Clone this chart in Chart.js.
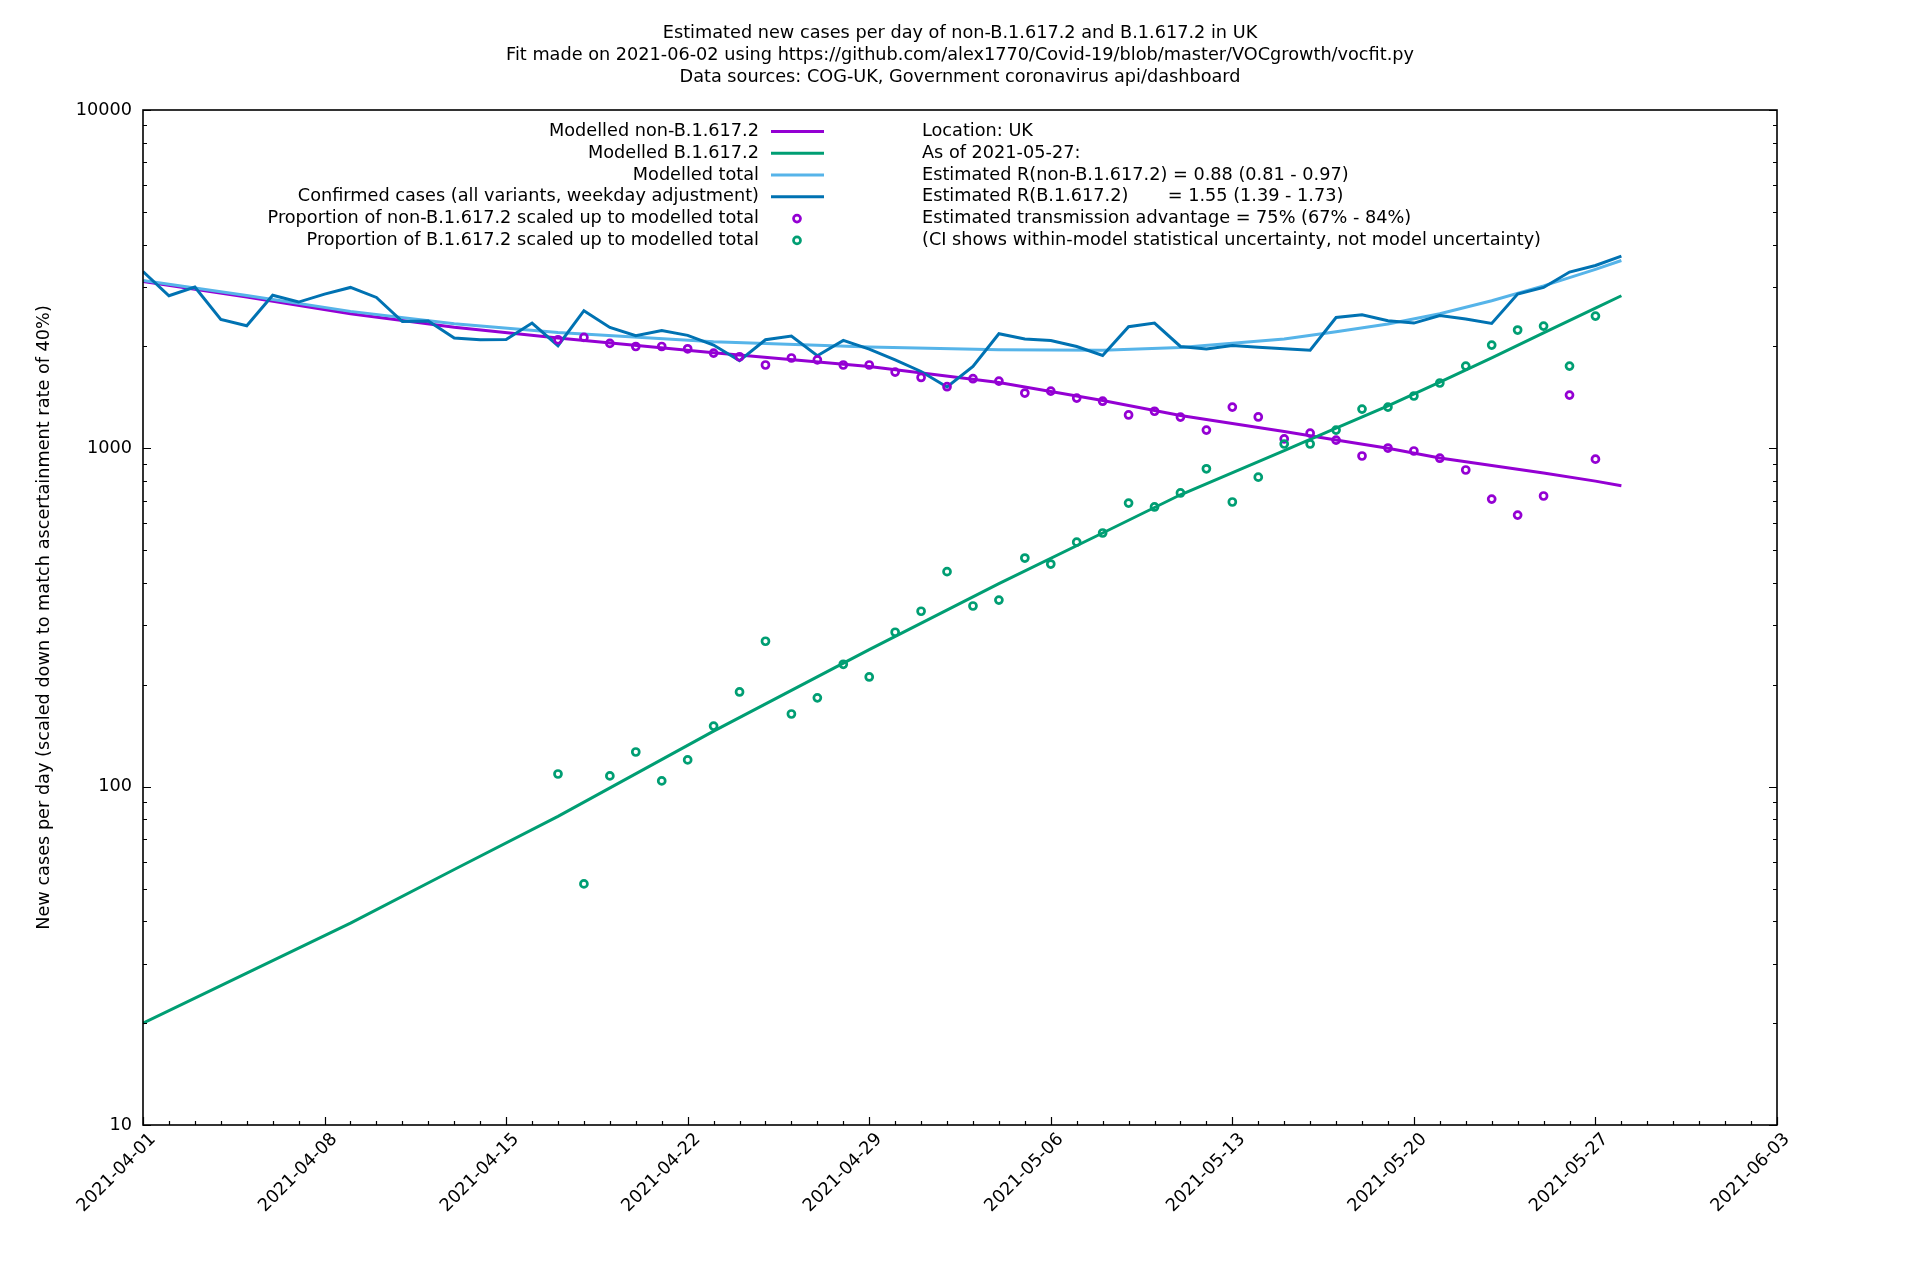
<!DOCTYPE html>
<html>
<head>
<meta charset="utf-8">
<title>Estimated new cases per day of non-B.1.617.2 and B.1.617.2 in UK</title>
<script src="https://cdn.jsdelivr.net/npm/chart.js@4.4.1/dist/chart.umd.min.js"></script>
<style>
  html, body { margin: 0; padding: 0; background: #fff; }
</style>
</head>
<body>
<canvas id="vocChart" width="1920" height="1280"></canvas>
<script>
// values
const startDate = '2021-04-01';

const titleLines = [
    'Estimated new cases per day of non-B.1.617.2 and B.1.617.2 in UK',
    'Fit made on 2021-06-02 using https://github.com/alex1770/Covid-19/blob/master/VOCgrowth/vocfit.py',
    'Data sources: COG-UK, Government coronavirus api/dashboard'
];
const yAxisTitle = 'New cases per day (scaled down to match ascertainment rate of 40%)';

const xTickLabels = ['2021-04-01', '2021-04-08', '2021-04-15', '2021-04-22', '2021-04-29',
                     '2021-05-06', '2021-05-13', '2021-05-20', '2021-05-27', '2021-06-03'];
const yTickValues = [10, 100, 1000, 10000];

// confirmed cases, one value per day from startDate
const confirmedCases = [
    3332, 2825, 2997, 2405, 2302, 2835, 2706, 2857, 2989, 2792,
    2371, 2377, 2118, 2094, 2098, 2345, 2011, 2552, 2276, 2152,
    2230, 2157, 2020, 1815, 2094, 2148, 1877, 2084, 1965, 1826,
    1687, 1518, 1746, 2181, 2104, 2084, 2000, 1882, 2287, 2345,
    2000, 1965, 2014, 1991, 1968, 1951, 2437, 2483, 2383, 2345,
    2470, 2410, 2339, 2857, 2989, 3319, 3470, 3700
];

// proportions scaled to modelled total, one value per day from propStartDate
const propStartDate = '2021-04-17';
const propNonB = [
    2094, 2127, 2042, 2000, 2000, 1969, 1912, 1865, 1763, 1849,
    1826, 1763, 1763, 1680, 1620, 1521, 1606, 1580, 1457, 1476,
    1408, 1378, 1255, 1287, 1237, 1132, 1324, 1238, 1066, 1109,
    1057, 949, 1002, 982, 935, 863, 708, 635, 723, 1437,
    929
];
const propB = [
    109, 51.6, 107.6, 126.6, 104, 120, 151, 190.5, 269, 164,
    183, 230, 211, 286, 330, 432, 342, 356, 474, 455,
    528, 562, 689, 671, 738, 870, 694, 822, 1030, 1030,
    1132, 1306, 1324, 1428, 1560, 1750, 2019, 2237, 2298, 1750,
    2460
];

// modelled curves, read at these dates
const modelDates = ['2021-04-01', '2021-04-05', '2021-04-09', '2021-04-13', '2021-04-17', '2021-04-23',
                    '2021-04-29', '2021-05-04', '2021-05-08', '2021-05-11', '2021-05-15', '2021-05-17',
                    '2021-05-19', '2021-05-21', '2021-05-23', '2021-05-25', '2021-05-27', '2021-05-28'];
const modelNonB  = [3114, 2800, 2500, 2280, 2120, 1915, 1745, 1565, 1385, 1250, 1122, 1058, 1000, 936, 890, 845, 800, 775];
const modelB     = [20, 28.1, 39.5, 56.9, 81.7, 146, 254, 398, 562, 729, 985, 1148, 1335, 1570, 1851, 2194, 2597, 2825];
const modelTotal = [3134, 2830, 2540, 2335, 2200, 2065, 1992, 1955, 1950, 1985, 2105, 2210, 2330, 2500, 2730, 3020, 3380, 3590];

const infoLines = [
    'Location: UK',
    'As of 2021-05-27:',
    'Estimated R(non-B.1.617.2) = 0.88 (0.81 - 0.97)',
    'Estimated R(B.1.617.2)       = 1.55 (1.39 - 1.73)',
    'Estimated transmission advantage = 75% (67% - 84%)',
    '(CI shows within-model statistical uncertainty, not model uncertainty)'
];

const colours = {
    nonB: '#9400d3',
    b: '#009e73',
    total: '#56b4e9',
    confirmed: '#0072b2'
};

const FONT = "'DejaVu Sans', sans-serif";
const FONT_SIZE = 17.7;

function dayOf(d) {
    return Math.round((Date.parse(d) - Date.parse(startDate)) / 86400000);
}
function byDates(dates, vals) {
    return vals.map((v, i) => ({ x: dayOf(dates[i]), y: v }));
}
function daily(first, vals) {
    const d0 = dayOf(first);
    return vals.map((v, i) => ({ x: d0 + i, y: v }));
}

function lineSet(label, data, colour, order) {
    return {
        label: label, data: data, order: order,
        borderColor: colour, borderWidth: 3,
        pointRadius: 0, tension: 0, fill: false
    };
}
function dotSet(label, data, colour, order) {
    return {
        label: label, data: data, order: order, showLine: false,
        pointStyle: 'circle', pointRadius: 3.5, pointBorderWidth: 2.7,
        pointBorderColor: colour, pointBackgroundColor: 'rgba(0,0,0,0)',
        borderColor: colour, backgroundColor: 'rgba(0,0,0,0)'
    };
}

// border box and inward ticks, gnuplot style
const frameTicks = {
    id: 'frameTicks',
    afterDatasetsDraw(chart) {
        const { ctx, chartArea: a, scales } = chart;
        ctx.save();
        ctx.strokeStyle = '#000';
        ctx.lineWidth = 1.2;
        ctx.beginPath();
        for (let d = scales.x.min; d <= scales.x.max; d++) {
            const px = Math.round(scales.x.getPixelForValue(d)) + 0.5;
            const len = (d % 7 === 0) ? 8 : 4;
            ctx.moveTo(px, a.bottom);
            ctx.lineTo(px, a.bottom - len);
        }
        for (let k = 1; k <= 4; k++) {
            for (let m = 1; m <= 9; m++) {
                const v = m * Math.pow(10, k);
                if (v > scales.y.max) break;
                const py = Math.round(scales.y.getPixelForValue(v)) + 0.5;
                const len = (m === 1) ? 8 : 4;
                ctx.moveTo(a.left, py);
                ctx.lineTo(a.left + len, py);
                ctx.moveTo(a.right, py);
                ctx.lineTo(a.right - len, py);
            }
        }
        ctx.stroke();
        ctx.lineWidth = 1.6;
        ctx.strokeRect(a.left, a.top, a.right - a.left, a.bottom - a.top);
        ctx.restore();
    }
};

// legend: text right-aligned with sample on its right, info text beside it
const keyBox = {
    id: 'keyBox',
    afterDraw(chart) {
        const { ctx, chartArea: a } = chart;
        const rowY = i => a.top + 21.4 + i * 21.8;
        ctx.save();
        ctx.font = FONT_SIZE + 'px ' + FONT;
        ctx.fillStyle = '#000';
        ctx.textBaseline = 'middle';
        chart.data.datasets.forEach((ds, i) => {
            const y = rowY(i);
            ctx.textAlign = 'right';
            ctx.fillText(ds.label, a.left + 616, y);
            if (ds.showLine === false) {
                ctx.strokeStyle = ds.pointBorderColor;
                ctx.lineWidth = ds.pointBorderWidth;
                ctx.beginPath();
                ctx.arc(a.left + 654, y, ds.pointRadius, 0, Math.PI * 2);
                ctx.stroke();
            } else {
                ctx.strokeStyle = ds.borderColor;
                ctx.lineWidth = ds.borderWidth;
                ctx.beginPath();
                ctx.moveTo(a.left + 628, y);
                ctx.lineTo(a.left + 681, y);
                ctx.stroke();
            }
        });
        ctx.textAlign = 'left';
        infoLines.forEach((t, i) => ctx.fillText(t, a.left + 779, rowY(i)));
        ctx.restore();
    }
};

Chart.defaults.font.family = FONT;
Chart.defaults.font.size = FONT_SIZE;
Chart.defaults.color = '#000';

const ctx = document.getElementById('vocChart').getContext('2d');
new Chart(ctx, {
    type: 'line',
    data: {
        datasets: [
            lineSet('Modelled non-B.1.617.2', byDates(modelDates, modelNonB), colours.nonB, 6),
            lineSet('Modelled B.1.617.2', byDates(modelDates, modelB), colours.b, 5),
            lineSet('Modelled total', byDates(modelDates, modelTotal), colours.total, 4),
            lineSet('Confirmed cases (all variants, weekday adjustment)', daily(startDate, confirmedCases), colours.confirmed, 3),
            dotSet('Proportion of non-B.1.617.2 scaled up to modelled total', daily(propStartDate, propNonB), colours.nonB, 2),
            dotSet('Proportion of B.1.617.2 scaled up to modelled total', daily(propStartDate, propB), colours.b, 1)
        ]
    },
    options: {
        responsive: false,
        animation: false,
        devicePixelRatio: 1,
        layout: { padding: 0 },
        scales: {
            x: {
                type: 'linear',
                min: dayOf(xTickLabels[0]),
                max: dayOf(xTickLabels[xTickLabels.length - 1]),
                grid: { display: false, drawTicks: false },
                border: { display: false },
                afterBuildTicks: s => { s.ticks = xTickLabels.map(l => ({ value: dayOf(l) })); },
                afterFit: s => { s.height = 155; },
                ticks: {
                    autoSkip: false,
                    minRotation: 45,
                    maxRotation: 45,
                    padding: 4,
                    labelOffset: 10,
                    callback: v => xTickLabels.find(l => dayOf(l) === v) || ''
                }
            },
            y: {
                type: 'logarithmic',
                min: yTickValues[0],
                max: yTickValues[yTickValues.length - 1],
                grid: { display: false, drawTicks: false },
                border: { display: false },
                afterBuildTicks: s => { s.ticks = yTickValues.map(v => ({ value: v })); },
                afterFit: s => { s.width = 143; },
                ticks: {
                    padding: 11,
                    callback: v => String(v)
                },
                title: {
                    display: true,
                    text: yAxisTitle,
                    padding: { top: 34, bottom: 0 }
                }
            },
            // empty right-hand margin so the title centres on the whole figure
            yRight: {
                type: 'linear',
                position: 'right',
                display: true,
                grid: { display: false, drawTicks: false },
                border: { display: false },
                ticks: { display: false },
                afterFit: s => { s.width = 143; }
            }
        },
        plugins: {
            legend: { display: false },
            tooltip: { enabled: false },
            title: {
                display: true,
                text: titleLines,
                color: '#000',
                font: { size: FONT_SIZE, weight: 'normal', lineHeight: '22px' },
                padding: { top: 22, bottom: 22 }
            }
        }
    },
    plugins: [frameTicks, keyBox]
});
</script>
</body>
</html>
